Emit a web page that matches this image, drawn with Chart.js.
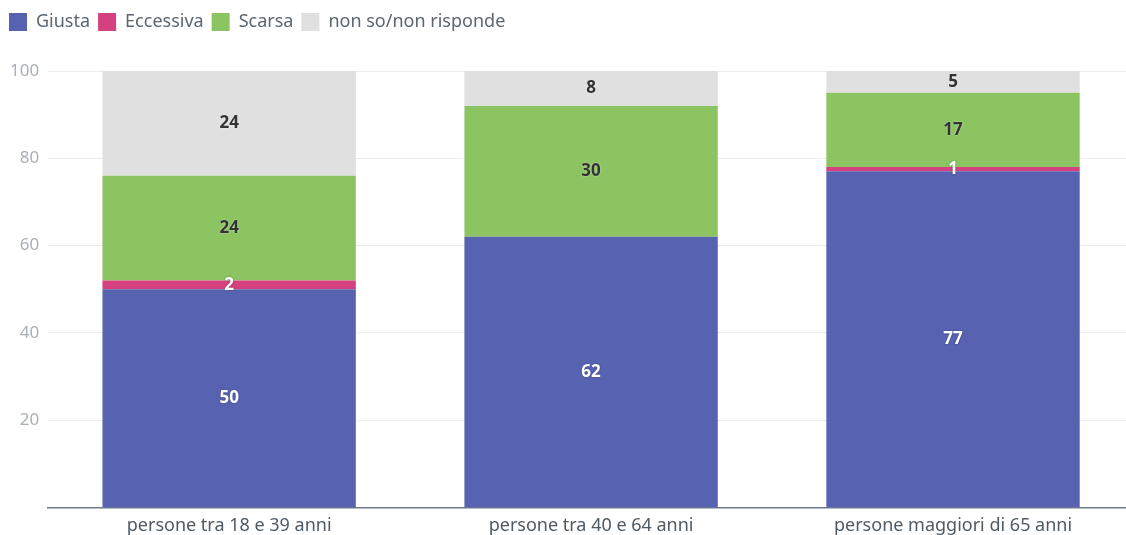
<!DOCTYPE html>
<html lang="it">

<head>
    <meta charset="UTF-8">
    <title>Giudizio per fascia d'età</title>
    <script src="https://cdn.jsdelivr.net/npm/chart.js"></script>
    <style>
        body { margin: 0; overflow: hidden; background: #fff; }
        #wrap { width: 1134px; height: 539px; }
    </style>
</head>

<body>
    <div id="wrap"><canvas id="chart"></canvas></div>
    <script>
        const categories = ['persone tra 18 e 39 anni', 'persone tra 40 e 64 anni', 'persone maggiori di 65 anni'];
        const giusta = [50, 62, 77];
        const eccessiva = [2, 0, 1];
        const scarsa = [24, 30, 17];
        const nonSo = [24, 8, 5];
        const yTicks = [20, 40, 60, 80, 100];

        const fontFamily = '"Noto Sans", "Open Sans", sans-serif';

        // draws the value in the middle of each segment
        const segmentLabels = {
            id: 'segmentLabels',
            afterDatasetsDraw(chart) {
                const ctx = chart.ctx;
                ctx.save();
                ctx.font = 'bold 17px ' + fontFamily;
                ctx.textAlign = 'center';
                ctx.textBaseline = 'middle';
                chart.data.datasets.forEach((ds, i) => {
                    const meta = chart.getDatasetMeta(i);
                    meta.data.forEach((bar, j) => {
                        const v = ds.data[j];
                        if (!v) return;
                        const y = (bar.y + bar.base) / 2;
                        ctx.shadowColor = ds.labelColor === '#fff' ? 'rgba(0,0,0,0.35)' : 'rgba(255,255,255,0.6)';
                        ctx.shadowBlur = 2;
                        ctx.fillStyle = ds.labelColor;
                        ctx.fillText(v, bar.x, y);
                    });
                });
                ctx.restore();
            }
        };

        // extra room under the legend
        const legendGap = {
            id: 'legendGap',
            beforeInit(chart) {
                const fit = chart.legend.fit;
                chart.legend.fit = function () {
                    fit.bind(chart.legend)();
                    this.height += 30;
                };
            }
        };

        new Chart(document.getElementById('chart'), {
            type: 'bar',
            data: {
                labels: categories,
                datasets: [
                    { label: 'Giusta', data: giusta, backgroundColor: '#5763b1', labelColor: '#fff' },
                    { label: 'Eccessiva', data: eccessiva, backgroundColor: '#d5407e', labelColor: '#fff' },
                    { label: 'Scarsa', data: scarsa, backgroundColor: '#8bc461', labelColor: '#333' },
                    { label: 'non so/non risponde', data: nonSo, backgroundColor: '#e0e0e0', labelColor: '#333' }
                ].map(d => Object.assign(d, { barPercentage: 0.7, categoryPercentage: 1, borderWidth: 0 }))
            },
            options: {
                responsive: true,
                maintainAspectRatio: false,
                animation: false,
                layout: { padding: { left: 1, right: 0, top: 5, bottom: 2 } },
                plugins: {
                    tooltip: { enabled: false },
                    legend: {
                        position: 'top',
                        align: 'start',
                        labels: {
                            boxWidth: 18,
                            boxHeight: 18,
                            padding: 8,
                            color: '#5b6670',
                            font: { family: fontFamily, size: 18 }
                        }
                    }
                },
                scales: {
                    x: {
                        stacked: true,
                        grid: { display: false },
                        border: { color: '#6e7b8b', width: 1.5 },
                        ticks: { color: '#4f5a64', font: { family: fontFamily, size: 18 }, padding: 0 }
                    },
                    y: {
                        stacked: true,
                        min: 0,
                        max: 100,
                        afterBuildTicks: axis => { axis.ticks = yTicks.map(v => ({ value: v })); },
                        grid: { color: '#ececec', drawTicks: false },
                        border: { display: false },
                        ticks: { color: '#a9b0b7', font: { family: fontFamily, size: 17 }, padding: 9 }
                    }
                }
            },
            plugins: [segmentLabels, legendGap]
        });
    </script>
</body>

</html>
